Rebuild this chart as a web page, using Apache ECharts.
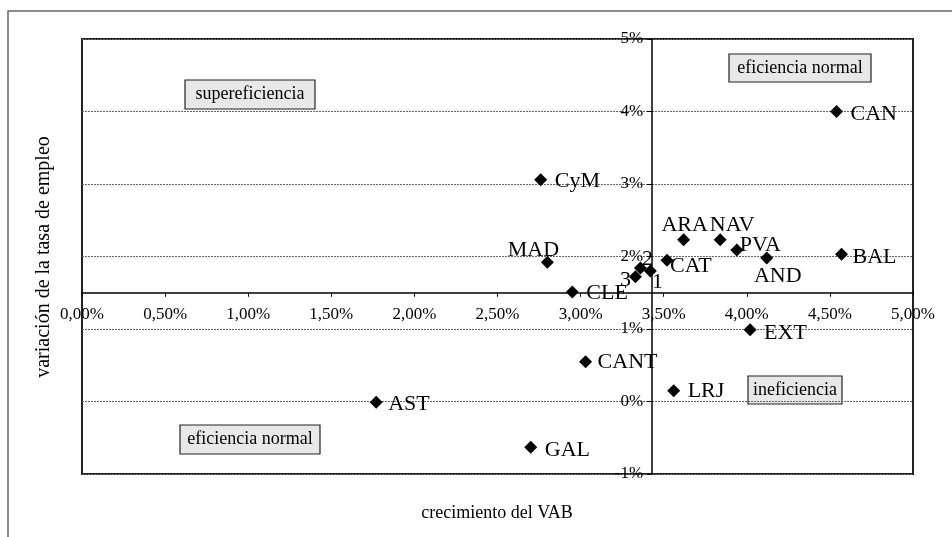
<!DOCTYPE html>
<html>
<head>
<meta charset="utf-8">
<script src="https://cdn.jsdelivr.net/npm/echarts@6/dist/echarts.min.js"></script>
<style>
  html, body { margin: 0; padding: 0; background: #fff; }
  #chart { width: 952px; height: 537px; }
</style>
</head>
<body>
<div id="chart"></div>
<script>
// Regions and their values (growth of GVA %, change in employment rate %)
const regions = ['CAN', 'CyM', 'ARA', 'NAV', 'PVA', 'BAL', 'AND', 'CAT', 'MAD', '2', '1', '3', 'CLE', 'EXT', 'CANT', 'LRJ', 'AST', 'GAL'];
const vabGrowth = [4.54, 2.76, 3.62, 3.84, 3.94, 4.57, 4.12, 3.52, 2.80, 3.36, 3.42, 3.33, 2.95, 4.02, 3.03, 3.56, 1.77, 2.70];
const employmentChange = [4.00, 3.06, 2.23, 2.23, 2.09, 2.03, 1.98, 1.95, 1.92, 1.84, 1.80, 1.72, 1.51, 0.99, 0.55, 0.15, -0.01, -0.63];

// Where the axes cross
const xCross = 3.43;
const yCross = 1.5;

// Axis ranges and tick steps
const xMin = 0, xMax = 5, xStep = 0.5;
const yMin = -1, yMax = 5, yStep = 1;

// Quadrant captions
const quadrantLabels = ['supereficiencia', 'eficiencia normal', 'ineficiencia', 'eficiencia normal'];

// Label placement for each point: [dx, dy, align] relative to the marker centre
const labelPlacement = [
  [14, 3, 'left'], [14, 2, 'left'], [1, -15, 'center'], [12, -15, 'center'],
  [3, -5, 'left'], [11, 3, 'left'], [11, 18, 'center'], [3, 6, 'left'],
  [-14, -12, 'center'], [7, -9, 'center'], [7, 11, 'center'], [-10, 3, 'center'],
  [14, 1, 'left'], [14, 3, 'left'], [12, 1, 'left'], [14, 1, 'left'],
  [12, 2, 'left'], [14, 3, 'left']
];

const FONT = "'Liberation Serif', 'Times New Roman', serif";
const grid = { left: 82, top: 39, right: 39, bottom: 63 };
const W = 952, H = 537;
const gridW = W - grid.left - grid.right;
const gridH = H - grid.top - grid.bottom;

// Shift the axis lines into the plot so they cross at (xCross, yCross)
const xAxisOffset = -gridH * (yCross - yMin) / (yMax - yMin);
const yAxisOffset = -gridW * (xCross - xMin) / (xMax - xMin);

const points = regions.map((name, i) => {
  const p = labelPlacement[i];
  return {
    name: name,
    value: [vabGrowth[i], employmentChange[i]],
    label: {
      show: true,
      position: 'inside',
      offset: [p[0], p[1]],
      align: p[2],
      verticalAlign: 'middle',
      formatter: '{b}',
      color: '#000',
      fontFamily: FONT,
      fontSize: 22
    }
  };
});

function boxCaption(text, x, y, w, h) {
  return {
    type: 'group',
    children: [
      { type: 'rect', shape: { x: x, y: y, width: w, height: h },
        style: { fill: '#e8e8e8', stroke: '#222', lineWidth: 1.2 } },
      { type: 'text', x: x + w / 2, y: y + h / 2,
        style: { text: text, fill: '#000', font: '18px ' + FONT, align: 'center', verticalAlign: 'middle' } }
    ]
  };
}

const chart = echarts.init(document.getElementById('chart'));
chart.setOption({
  animation: false,
  backgroundColor: '#fff',
  grid: {
    left: grid.left, top: grid.top, right: grid.right, bottom: grid.bottom,
    show: true, borderColor: '#222', borderWidth: 2, backgroundColor: 'transparent'
  },
  xAxis: {
    type: 'value', min: xMin, max: xMax, interval: xStep,
    offset: xAxisOffset,
    axisLine: { show: true, onZero: false, lineStyle: { color: '#000', width: 1.5 } },
    axisTick: { show: true, length: 4, lineStyle: { color: '#000', width: 1 } },
    axisLabel: {
      margin: 13, color: '#000', fontFamily: FONT, fontSize: 17,
      formatter: v => v.toFixed(2).replace('.', ',') + '%'
    },
    splitLine: { show: false }
  },
  yAxis: {
    type: 'value', min: yMin, max: yMax, interval: yStep,
    offset: yAxisOffset,
    axisLine: { show: true, onZero: false, lineStyle: { color: '#000', width: 1.5 } },
    axisTick: { show: true, length: 5, lineStyle: { color: '#000', width: 1 } },
    axisLabel: {
      margin: 9, color: '#000', fontFamily: FONT, fontSize: 17,
      formatter: v => v + '%'
    },
    splitLine: { show: true, lineStyle: { color: '#666', width: 1, type: [2, 1] } }
  },
  series: [{
    type: 'scatter',
    symbol: 'diamond',
    symbolSize: 13,
    itemStyle: { color: '#000', opacity: 1 },
    data: points
  }],
  graphic: [
    { type: 'rect', shape: { x: 8, y: 11, width: 960, height: 540 },
      style: { fill: 'none', stroke: '#666', lineWidth: 1.5 }, silent: true },
    boxCaption(quadrantLabels[0], 185, 80, 130, 29),
    boxCaption(quadrantLabels[1], 729, 54, 142, 28),
    boxCaption(quadrantLabels[2], 748, 376, 94, 28),
    boxCaption(quadrantLabels[3], 180, 425, 140, 29),
    { type: 'text', x: 44, y: 257, rotation: Math.PI / 2,
      style: { text: 'variación de la tasa de empleo', fill: '#000', font: '20px ' + FONT, align: 'center', verticalAlign: 'middle' } },
    { type: 'text', x: 497, y: 513,
      style: { text: 'crecimiento del VAB', fill: '#000', font: '18px ' + FONT, align: 'center', verticalAlign: 'middle' } }
  ]
});
</script>
</body>
</html>
